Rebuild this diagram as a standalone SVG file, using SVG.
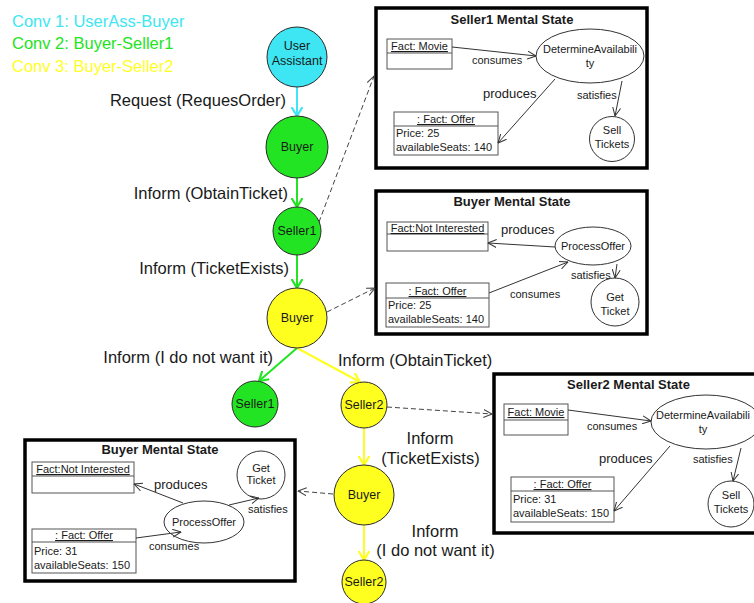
<svg xmlns="http://www.w3.org/2000/svg" width="754" height="603" viewBox="0 0 754 603">
<defs>
<style>
text{font-family:"Liberation Sans",Arial,sans-serif;fill:#1a1a1a}
.leg{font-size:16.5px}
.lbl{font-size:16.5px}
.nd{font-size:12.5px;text-anchor:middle}
.sm{font-size:11px}
.c{text-anchor:middle}
.pr{font-size:13px}
.ttl{font-size:13px;font-weight:bold;text-anchor:middle}
.u{text-decoration:underline}
.frame{fill:#fff;stroke:#000;stroke-width:3.5}
.cls{fill:#fff;stroke:#555;stroke-width:1}
.shape{fill:#fff;stroke:#333;stroke-width:1}
.thin{fill:none;stroke:#333;stroke-width:1;marker-end:url(#aBlk)}
.dash{fill:none;stroke:#444;stroke-width:1;stroke-dasharray:5,3;marker-end:url(#aDash)}
.cy{fill:#3de6f2;stroke:#2a2a2a;stroke-width:1}
.gr{fill:#22e422;stroke:#2a2a2a;stroke-width:1}
.ye{fill:#ffff1f;stroke:#2a2a2a;stroke-width:1}
.lc{fill:none;stroke:#3de6f2;stroke-width:2;marker-end:url(#aCy)}
.lg{fill:none;stroke:#22e422;stroke-width:2;marker-end:url(#aGr)}
.ly{fill:none;stroke:#ffff1f;stroke-width:2;marker-end:url(#aYe)}
</style>
<marker id="aCy" viewBox="0 0 10 12" refX="9" refY="6" markerWidth="10" markerHeight="12" markerUnits="userSpaceOnUse" orient="auto"><path d="M0,0.5 L9,6 L0,11.5" fill="none" stroke="#3de6f2" stroke-width="2.2"/></marker>
<marker id="aGr" viewBox="0 0 10 12" refX="9" refY="6" markerWidth="10" markerHeight="12" markerUnits="userSpaceOnUse" orient="auto"><path d="M0,0.5 L9,6 L0,11.5" fill="none" stroke="#22e422" stroke-width="2.2"/></marker>
<marker id="aYe" viewBox="0 0 10 12" refX="9" refY="6" markerWidth="10" markerHeight="12" markerUnits="userSpaceOnUse" orient="auto"><path d="M0,0.5 L9,6 L0,11.5" fill="none" stroke="#ffff1f" stroke-width="2.2"/></marker>
<marker id="aBlk" viewBox="0 0 9 9" refX="8.5" refY="4.5" markerWidth="9" markerHeight="9" markerUnits="userSpaceOnUse" orient="auto"><path d="M0,0.5 L8.5,4.5 L0,8.5" fill="none" stroke="#333" stroke-width="1"/></marker>
<marker id="aDash" viewBox="0 0 9 9" refX="8.5" refY="4.5" markerWidth="9" markerHeight="9" markerUnits="userSpaceOnUse" orient="auto"><path d="M0,0.5 L8.5,4.5 L0,8.5" fill="none" stroke="#444" stroke-width="1"/></marker>
</defs>
<rect width="754" height="603" fill="#fff"/>

<g id="legend">
<text class="leg" x="12" y="27" style="fill:#3de6f2">Conv 1: UserAss-Buyer</text>
<text class="leg" x="12" y="49" style="fill:#22e422">Conv 2: Buyer-Seller1</text>
<text class="leg" x="12" y="72" style="fill:#ffff1f">Conv 3: Buyer-Seller2</text>
</g>

<g id="seller1-mental-state">
<rect class="frame" x="376" y="8" width="271" height="160"/>
<text class="ttl" x="512" y="24">Seller1 Mental State</text>
<g id="s1-fact-movie"><rect class="cls" x="387" y="39" width="65" height="30"/><line x1="387" y1="53" x2="452" y2="53" stroke="#555"/><text class="sm c u" x="419.5" y="50">Fact: Movie</text></g>
<g id="s1-determine"><ellipse class="shape" cx="590" cy="56" rx="54" ry="27"/><text class="sm c" x="590" y="53">DetermineAvailabili</text><text class="sm c" x="590" y="67">ty</text></g>
<g id="s1-offer"><rect class="cls" x="394" y="112" width="104" height="43"/><line x1="394" y1="126" x2="498" y2="126" stroke="#555"/><text class="sm c u" x="446" y="123">: Fact: Offer</text><text class="sm" x="396" y="137">Price: 25</text><text class="sm" x="396" y="151">availableSeats: 140</text></g>
<g id="s1-sell"><circle class="shape" cx="612" cy="139" r="22.5"/><text class="sm c" x="612" y="134">Sell</text><text class="sm c" x="612" y="148">Tickets</text></g>
<g id="s1-links">
<line class="thin" x1="452" y1="47" x2="536" y2="56"/>
<line class="thin" x1="555" y1="79" x2="498" y2="143"/>
<line class="thin" x1="622" y1="81" x2="615" y2="116"/>
</g>
<text class="sm" x="472" y="64">consumes</text>
<text class="pr" x="483" y="98">produces</text>
<text class="sm" x="577" y="99">satisfies</text>
</g>

<g id="buyer-mental-state-1">
<rect class="frame" x="376" y="191" width="271" height="143"/>
<text class="ttl" x="512" y="206">Buyer Mental State</text>
<g id="b1-notint"><rect class="cls" x="387" y="222" width="101" height="29"/><line x1="387" y1="234" x2="488" y2="234" stroke="#555"/><text class="sm c u" x="437.5" y="232">Fact:Not Interested</text></g>
<g id="b1-process"><ellipse class="shape" cx="593" cy="246" rx="38" ry="19"/><text class="sm c" x="593" y="250">ProcessOffer</text></g>
<g id="b1-offer"><rect class="cls" x="386" y="283" width="103" height="44"/><line x1="386" y1="298" x2="489" y2="298" stroke="#555"/><text class="sm c u" x="437.5" y="295">: Fact: Offer</text><text class="sm" x="388" y="309">Price: 25</text><text class="sm" x="388" y="323">availableSeats: 140</text></g>
<g id="b1-get"><circle class="shape" cx="615" cy="302" r="24"/><text class="sm c" x="615" y="301">Get</text><text class="sm c" x="615" y="315">Ticket</text></g>
<g id="b1-links">
<line class="thin" x1="555" y1="247" x2="488" y2="243"/>
<line class="thin" x1="489" y1="293" x2="568" y2="262"/>
<line class="thin" x1="617" y1="264" x2="615" y2="278"/>
</g>
<text class="pr" x="501" y="234">produces</text>
<text class="sm" x="510" y="298">consumes</text>
<text class="sm" x="571" y="279">satisfies</text>
</g>

<g id="seller2-mental-state">
<rect class="frame" x="494" y="374" width="275" height="159"/>
<text class="ttl" x="628.5" y="389">Seller2 Mental State</text>
<g id="s2-fact-movie"><rect class="cls" x="504" y="404" width="64" height="31"/><line x1="504" y1="420" x2="568" y2="420" stroke="#555"/><text class="sm c u" x="536" y="416">Fact: Movie</text></g>
<g id="s2-determine"><ellipse class="shape" cx="706" cy="422" rx="55" ry="27"/><text class="sm" x="656" y="419">DetermineAvailabili</text><text class="sm c" x="703" y="433">ty</text></g>
<g id="s2-offer"><rect class="cls" x="511" y="477" width="103" height="45"/><line x1="511" y1="491" x2="614" y2="491" stroke="#555"/><text class="sm c u" x="562.5" y="488">: Fact: Offer</text><text class="sm" x="513" y="503">Price: 31</text><text class="sm" x="513" y="517">availableSeats: 150</text></g>
<g id="s2-sell"><circle class="shape" cx="731" cy="504" r="23"/><text class="sm c" x="731" y="499">Sell</text><text class="sm c" x="731" y="513">Tickets</text></g>
<g id="s2-links">
<line class="thin" x1="568" y1="410" x2="651" y2="421"/>
<line class="thin" x1="670" y1="446" x2="614" y2="511"/>
<line class="thin" x1="741" y1="448" x2="733" y2="481"/>
</g>
<text class="sm" x="587" y="430">consumes</text>
<text class="pr" x="599" y="463">produces</text>
<text class="sm" x="693" y="463">satisfies</text>
</g>

<g id="buyer-mental-state-2">
<rect class="frame" x="25" y="440" width="270" height="141"/>
<text class="ttl" x="160" y="454">Buyer Mental State</text>
<g id="b2-notint"><rect class="cls" x="32" y="462" width="102" height="31"/><line x1="32" y1="476" x2="134" y2="476" stroke="#555"/><text class="sm c u" x="83" y="473">Fact:Not Interested</text></g>
<g id="b2-get"><circle class="shape" cx="261" cy="475" r="24"/><text class="sm c" x="261" y="472">Get</text><text class="sm c" x="261" y="484">Ticket</text></g>
<g id="b2-process"><ellipse class="shape" cx="204" cy="522" rx="40" ry="21"/><text class="sm c" x="204" y="526">ProcessOffer</text></g>
<g id="b2-offer"><rect class="cls" x="32" y="529" width="104" height="44"/><line x1="32" y1="542" x2="136" y2="542" stroke="#555"/><text class="sm c u" x="84" y="539">: Fact: Offer</text><text class="sm" x="34" y="555">Price: 31</text><text class="sm" x="34" y="569">availableSeats: 150</text></g>
<g id="b2-links">
<line class="thin" x1="183" y1="503" x2="134" y2="484"/>
<line class="thin" x1="229" y1="505" x2="259" y2="498"/>
<line class="thin" x1="136" y1="538" x2="181" y2="532"/>
</g>
<text class="pr" x="154" y="489">produces</text>
<text class="sm" x="248" y="513">satisfies</text>
<text class="sm" x="149" y="550">consumes</text>
</g>

<g id="connectors">
<line class="lc" x1="297" y1="87" x2="297" y2="116"/>
<line class="lg" x1="297" y1="178" x2="297" y2="207"/>
<line class="lg" x1="297" y1="255" x2="297" y2="288"/>
<line class="lg" x1="297" y1="348" x2="259" y2="381"/>
<line class="ly" x1="297" y1="348" x2="360" y2="382"/>
<line class="ly" x1="364" y1="428" x2="364" y2="465"/>
<line class="ly" x1="364" y1="525" x2="364" y2="560"/>
<line class="dash" x1="319" y1="222" x2="374" y2="76"/>
<line class="dash" x1="327" y1="312" x2="375" y2="288"/>
<line class="dash" x1="387" y1="407" x2="492" y2="414"/>
<line class="dash" x1="333" y1="494" x2="298" y2="491"/>
<text class="lbl" x="286" y="106" text-anchor="end">Request (RequesOrder)</text>
<text class="lbl" x="288" y="199" text-anchor="end">Inform (ObtainTicket)</text>
<text class="lbl" x="289" y="274" text-anchor="end">Inform (TicketExists)</text>
<text class="lbl" x="273" y="363" text-anchor="end">Inform (I do not want it)</text>
<text class="lbl" x="338" y="366">Inform (ObtainTicket)</text>
<text class="lbl" x="430" y="444" text-anchor="middle">Inform</text>
<text class="lbl" x="430.5" y="464" text-anchor="middle">(TicketExists)</text>
<text class="lbl" x="435" y="537" text-anchor="middle">Inform</text>
<text class="lbl" x="435.5" y="556" text-anchor="middle">(I do not want it)</text>
</g>

<g id="user-assistant"><circle class="cy" cx="297" cy="57" r="30"/><text class="nd" x="297" y="50">User</text><text class="nd" x="297" y="65">Assistant</text></g>
<g id="buyer-1"><circle class="gr" cx="297" cy="147" r="31"/><text class="nd" x="297" y="151">Buyer</text></g>
<g id="seller1-1"><circle class="gr" cx="297" cy="231" r="24"/><text class="nd" x="297" y="235">Seller1</text></g>
<g id="buyer-2"><circle class="ye" cx="297" cy="318" r="30"/><text class="nd" x="297" y="322">Buyer</text></g>
<g id="seller1-2"><circle class="gr" cx="255" cy="404" r="23"/><text class="nd" x="255" y="408">Seller1</text></g>
<g id="seller2-1"><circle class="ye" cx="364" cy="405" r="23"/><text class="nd" x="364" y="409">Seller2</text></g>
<g id="buyer-3"><circle class="ye" cx="364" cy="495" r="30"/><text class="nd" x="364" y="499">Buyer</text></g>
<g id="seller2-2"><circle class="ye" cx="364" cy="582" r="22"/><text class="nd" x="364" y="586">Seller2</text></g>
</svg>
